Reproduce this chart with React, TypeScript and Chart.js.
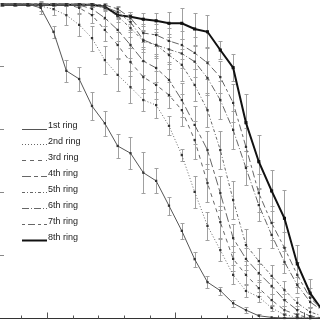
import { useEffect, useRef } from 'react';
import { Chart, registerables } from 'chart.js';

Chart.register(...registerables);

// x positions of the sampled points (point index along the axis)
const xPos = [0, 1, 2, 3, 4, 5, 6, 7, 8, 9, 10, 11, 12, 13, 14, 15, 16, 17, 18, 19, 20, 21, 22, 23, 24, 25];

const ringLabels = ['1st ring', '2nd ring', '3rd ring', '4th ring', '5th ring', '6th ring', '7th ring', '8th ring'];

const ring1 = [0.998, 0.998, 0.998, 0.986, 0.910, 0.786, 0.760, 0.674, 0.619, 0.547, 0.524, 0.462, 0.436, 0.357, 0.277, 0.187, 0.114, 0.087, 0.047, 0.025, 0.007, 0.002, 0, 0, 0, 0];
const ring2 = [0.998, 0.998, 0.998, 0.992, 0.982, 0.963, 0.932, 0.890, 0.820, 0.773, 0.734, 0.693, 0.677, 0.611, 0.518, 0.401, 0.293, 0.216, 0.137, 0.086, 0.067, 0.032, 0.010, 0.003, 0, 0];
const ring3 = [0.998, 0.998, 0.998, 0.998, 0.998, 0.998, 0.986, 0.963, 0.916, 0.868, 0.814, 0.766, 0.741, 0.709, 0.661, 0.566, 0.429, 0.305, 0.188, 0.137, 0.095, 0.057, 0.025, 0.010, 0, 0];
const ring4 = [0.998, 0.998, 0.998, 0.998, 0.998, 0.998, 0.995, 0.983, 0.954, 0.916, 0.868, 0.817, 0.795, 0.757, 0.693, 0.614, 0.534, 0.397, 0.254, 0.188, 0.143, 0.102, 0.057, 0.025, 0.006, 0];
const ring5 = [0.998, 0.998, 0.998, 0.998, 0.998, 0.998, 0.998, 0.995, 0.986, 0.960, 0.922, 0.881, 0.868, 0.836, 0.805, 0.741, 0.661, 0.534, 0.375, 0.232, 0.181, 0.134, 0.089, 0.048, 0.019, 0.006];
const ring6 = [0.998, 0.998, 0.998, 0.998, 0.998, 0.998, 0.998, 0.995, 0.989, 0.973, 0.941, 0.884, 0.868, 0.854, 0.841, 0.815, 0.763, 0.693, 0.598, 0.477, 0.359, 0.264, 0.178, 0.105, 0.051, 0.022];
const ring7 = [0.998, 0.998, 0.998, 0.998, 0.998, 0.998, 0.998, 0.998, 0.995, 0.983, 0.954, 0.906, 0.900, 0.881, 0.868, 0.843, 0.811, 0.766, 0.684, 0.544, 0.397, 0.302, 0.223, 0.137, 0.064, 0.025];
const ring8 = [0.996, 0.996, 0.996, 0.996, 0.996, 0.996, 0.996, 0.996, 0.990, 0.963, 0.958, 0.950, 0.945, 0.937, 0.937, 0.919, 0.910, 0.852, 0.796, 0.621, 0.497, 0.404, 0.317, 0.172, 0.079, 0.022];

const err1 = [0, 0, 0.004, 0.02, 0.02, 0.035, 0.038, 0.043, 0.04, 0.038, 0.05, 0.066, 0.04, 0.029, 0.026, 0.024, 0.019, 0.013, 0.011, 0.01, 0.006, 0.003, 0, 0, 0, 0];
const err2 = [0, 0, 0.004, 0.015, 0.02, 0.03, 0.035, 0.04, 0.045, 0.05, 0.05, 0.035, 0.04, 0.03, 0.02, 0.05, 0.045, 0.035, 0.03, 0.02, 0.015, 0.01, 0.006, 0.003, 0, 0];
const err3 = [0, 0, 0, 0, 0, 0.005, 0.015, 0.025, 0.035, 0.04, 0.045, 0.05, 0.045, 0.04, 0.05, 0.06, 0.06, 0.05, 0.04, 0.03, 0.025, 0.02, 0.012, 0.006, 0, 0];
const err4 = [0, 0, 0, 0, 0, 0, 0.005, 0.015, 0.025, 0.035, 0.04, 0.045, 0.045, 0.05, 0.055, 0.06, 0.06, 0.055, 0.045, 0.035, 0.03, 0.025, 0.02, 0.012, 0.005, 0];
const err5 = [0, 0, 0, 0, 0, 0, 0, 0.005, 0.01, 0.02, 0.03, 0.035, 0.04, 0.045, 0.05, 0.05, 0.055, 0.06, 0.06, 0.05, 0.04, 0.035, 0.03, 0.02, 0.012, 0.006];
const err6 = [0, 0, 0, 0, 0, 0, 0, 0.005, 0.008, 0.015, 0.025, 0.03, 0.035, 0.04, 0.045, 0.05, 0.055, 0.06, 0.06, 0.055, 0.05, 0.04, 0.035, 0.025, 0.015, 0.01];
const err7 = [0, 0, 0, 0, 0, 0, 0, 0, 0.005, 0.01, 0.02, 0.03, 0.035, 0.04, 0.045, 0.05, 0.05, 0.05, 0.06, 0.06, 0.06, 0.055, 0.05, 0.04, 0.03, 0.02];
const err8 = [0.004, 0.004, 0.004, 0.004, 0.004, 0.004, 0.004, 0.004, 0.006, 0.01, 0.015, 0.02, 0.025, 0.035, 0.05, 0.05, 0.052, 0.03, 0.043, 0.09, 0.085, 0.065, 0.09, 0.06, 0.045, 0.03];

// tick positions along the bottom axis and the left axis (no labels visible)
const xTicks = [1.5, 3.5, 5.5, 7.5, 9.5, 11.5, 13.5, 15.5, 17.5, 19.5, 21.5, 23.5];
const xMajorTicks = [3.5, 13.5, 23.5];
const yTicks = [0.2, 0.4, 0.6, 0.8];

const series = [ring1, ring2, ring3, ring4, ring5, ring6, ring7, ring8];
const errors = [err1, err2, err3, err4, err5, err6, err7, err8];

const dashes: number[][] = [[], [1, 2], [4, 4], [9, 3, 4, 3], [3, 2, 1, 2], [7, 2, 1, 2], [3, 3, 7, 3], []];
const lineColors = ['#555', '#666', '#666', '#666', '#666', '#666', '#666', '#111'];
const lineWidths = [1, 1, 1, 1, 1, 1, 1, 2];

const decor = {
  id: 'decor',
  beforeDatasetsDraw(chart: any) {
    const ctx = chart.ctx;
    const xs = chart.scales.x;
    const ys = chart.scales.y;
    ctx.save();
    ctx.strokeStyle = '#a0a0a0';
    ctx.lineWidth = 1;
    ctx.setLineDash([]);
    errors.forEach((errs, si) => {
      const vals = series[si];
      errs.forEach((e, j) => {
        if (e <= 0.003) return;
        const x = Math.round(xs.getPixelForValue(xPos[j])) + 0.5;
        const yt = Math.round(ys.getPixelForValue(vals[j] + e)) + 0.5;
        const yb = Math.round(ys.getPixelForValue(Math.max(0, vals[j] - e))) + 0.5;
        ctx.beginPath();
        ctx.moveTo(x, yt);
        ctx.lineTo(x, yb);
        ctx.moveTo(x - 2, yt);
        ctx.lineTo(x + 2, yt);
        ctx.moveTo(x - 2, yb);
        ctx.lineTo(x + 2, yb);
        ctx.stroke();
      });
    });
    ctx.restore();
  },
  afterDatasetsDraw(chart: any) {
    const ctx = chart.ctx;
    const xs = chart.scales.x;
    const ys = chart.scales.y;
    const area = chart.chartArea;
    ctx.save();
    ctx.setLineDash([]);
    // bottom axis
    const y0 = Math.round(ys.getPixelForValue(0)) + 0.5;
    ctx.strokeStyle = '#333';
    ctx.lineWidth = 1;
    ctx.beginPath();
    ctx.moveTo(area.left, y0);
    ctx.lineTo(area.right, y0);
    ctx.stroke();
    ctx.strokeStyle = '#555';
    xTicks.forEach((t) => {
      const x = Math.round(xs.getPixelForValue(t)) + 0.5;
      const h = xMajorTicks.includes(t) ? 6 : 3;
      ctx.beginPath();
      ctx.moveTo(x, y0);
      ctx.lineTo(x, y0 - h);
      ctx.stroke();
    });
    ctx.strokeStyle = '#888';
    yTicks.forEach((t) => {
      const y = Math.round(ys.getPixelForValue(t)) + 0.5;
      ctx.beginPath();
      ctx.moveTo(area.left, y);
      ctx.lineTo(area.left + 4, y);
      ctx.stroke();
    });
    // legend
    ctx.font = '9px "Liberation Sans", Arial, sans-serif';
    ctx.textBaseline = 'middle';
    ctx.fillStyle = '#222';
    ringLabels.forEach((label, i) => {
      const cy = 126 + i * 15.95;
      ctx.strokeStyle = lineColors[i];
      ctx.lineWidth = lineWidths[i];
      ctx.setLineDash(dashes[i]);
      ctx.beginPath();
      ctx.moveTo(22, Math.round(cy + 2.5) + 0.5);
      ctx.lineTo(47, Math.round(cy + 2.5) + 0.5);
      ctx.stroke();
      ctx.fillText(label, 48, cy);
    });
    ctx.restore();
  },
};

export default function App() {
  const ref = useRef<HTMLCanvasElement | null>(null);
  useEffect(() => {
    if (!ref.current) return;
    const chart = new Chart(ref.current, {
      type: 'line',
      data: {
        datasets: series.map((vals, i) => ({
          label: ringLabels[i],
          data: vals.map((v, j) => ({ x: xPos[j], y: v })),
          borderColor: lineColors[i],
          borderWidth: lineWidths[i],
          borderDash: dashes[i],
          pointStyle: 'rect',
          pointRadius: i === 7 ? 2.2 : 1.6,
          pointBackgroundColor: i === 7 ? '#111' : '#333',
          pointBorderWidth: 0,
          fill: false,
          tension: 0,
        })),
      },
      options: {
        animation: false,
        responsive: false,
        maintainAspectRatio: false,
        layout: { padding: 0, autoPadding: false },
        plugins: { legend: { display: false }, tooltip: { enabled: false } },
        scales: {
          x: { type: 'linear', display: false, min: -0.17, max: 24.77 },
          y: { type: 'linear', display: false, min: -0.00636, max: 1.0111 },
        },
      },
      plugins: [decor],
    });
    return () => chart.destroy();
  }, []);
  return (
    <div style={{ position: 'fixed', left: 0, top: 0, width: 320, height: 320, background: '#fff' }}>
      <canvas ref={ref} width={320} height={320} style={{ display: 'block' }} />
    </div>
  );
}
